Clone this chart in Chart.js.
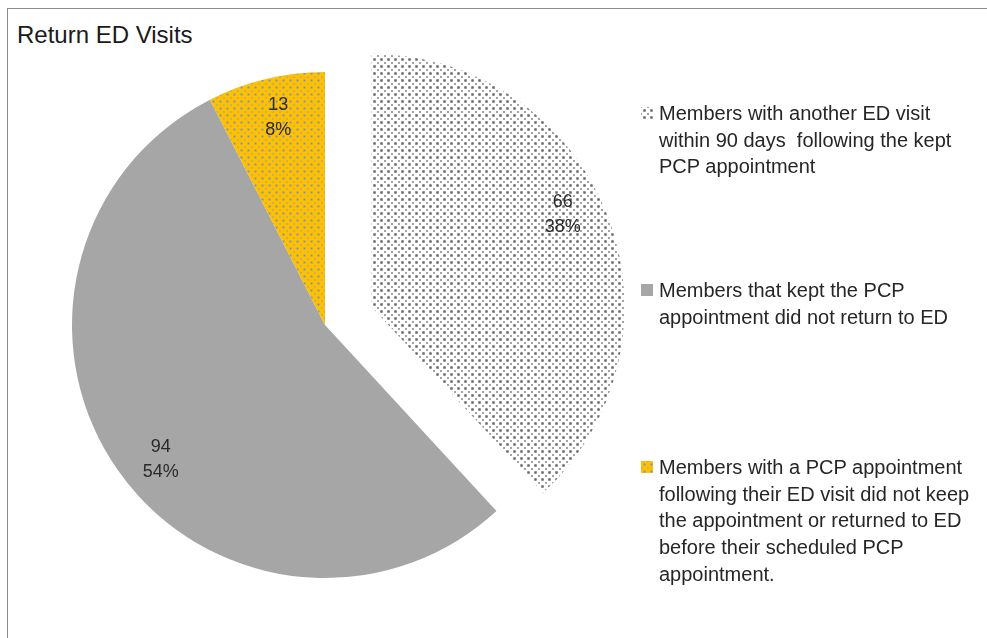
<!DOCTYPE html>
<html><head><meta charset="utf-8">
<script src="https://cdn.jsdelivr.net/npm/chart.js@4"></script>
<style>
html,body{margin:0;padding:0;background:#fff;width:987px;height:638px;overflow:hidden;font-family:"Liberation Sans",Arial,sans-serif;}
#frame{position:absolute;left:7px;top:8px;width:1000px;height:700px;border-top:1px solid #8c8c8c;border-left:1px solid #8c8c8c;}
#title{position:absolute;left:17px;top:21px;font-size:24px;color:#1a1a1a;white-space:pre;}
#wrap{position:absolute;left:0;top:0;width:987px;height:638px;}
#legend{position:absolute;left:641px;top:100px;width:346px;}
.item{position:absolute;left:0;width:340px;}
.item canvas{position:absolute;left:0;top:7px;}
.item .txt{position:absolute;left:18px;top:0;font-size:20px;line-height:26.7px;color:#262626;white-space:pre;}
</style>
</head><body>
<div id="frame"></div>
<div id="title">Return ED Visits</div>
<div id="wrap"><canvas id="c" width="987" height="638"></canvas></div>
<div id="legend"></div>
<script>
// ---- data ----
const titleText = "Return ED Visits";
const categories = [
  ["Members with another ED visit", "within 90 days  following the kept", "PCP appointment"],
  ["Members that kept the PCP", "appointment did not return to ED"],
  ["Members with a PCP appointment", "following their ED visit did not keep", "the appointment or returned to ED", "before their scheduled PCP", "appointment."]
];
const values = [66, 94, 13];
const explodedIndex = [0];

// ---- styles ----
const EXPLODE = 50;
const RADIUS = 253;
const LABEL_FRAC = 0.84;
const LABEL_ANGLE_NUDGE_DEG = [-4.5, -4.5, 0.8];

function makePattern(bg, c1, c2, c3, c4) {
  const cv = document.createElement('canvas');
  cv.width = 7; cv.height = 7;
  const g = cv.getContext('2d');
  g.fillStyle = bg; g.fillRect(0, 0, 7, 7);
  const px = (x, y, col) => { g.fillStyle = col; g.fillRect(x, y, 1, 1); };
  [[2,2],[4,2],[2,4],[4,4]].forEach(p => px(p[0], p[1], c3));
  [[3,2],[2,3],[4,3],[3,4]].forEach(p => px(p[0], p[1], c2));
  px(3, 3, c1);
  [[0,0],[6,6],[0,6],[6,0]].forEach(p => px(p[0], p[1], c4));
  return g.createPattern(cv, 'repeat');
}
const ctx = document.getElementById('c').getContext('2d');
const dotPattern = makePattern('#ffffff', '#6a6a6a', '#8a8a8a', '#b0b0b0', '#a4a4a4');
const goldPattern = makePattern('#ffc000', '#7f93a8', '#b7ab72', '#ddb638', '#c9b25a');
const colors = [dotPattern, '#a6a6a6', goldPattern];

const explodePlugin = {
  id: 'explode',
  afterDatasetUpdate(chart, args) {
    const meta = args.meta;
    explodedIndex.forEach(i => {
      const arc = meta.data[i];
      if (!arc) return;
      const mid = (arc.startAngle + arc.endAngle) / 2;
      arc.x += Math.cos(mid) * EXPLODE;
      arc.y += Math.sin(mid) * EXPLODE;
    });
  }
};

const labelPlugin = {
  id: 'pieLabels',
  afterDatasetsDraw(chart) {
    const meta = chart.getDatasetMeta(0);
    const data = chart.data.datasets[0].data;
    const total = data.reduce((a, b) => a + b, 0);
    const c = chart.ctx;
    c.save();
    c.font = '18px "Liberation Sans", Arial, sans-serif';
    c.fillStyle = '#2a2a2a';
    c.textAlign = 'center';
    c.textBaseline = 'middle';
    meta.data.forEach((arc, i) => {
      const mid = (arc.startAngle + arc.endAngle) / 2 + (LABEL_ANGLE_NUDGE_DEG[i] || 0) * Math.PI / 180;
      const r = arc.outerRadius * LABEL_FRAC;
      const x = arc.x + Math.cos(mid) * r;
      const y = arc.y + Math.sin(mid) * r;
      c.fillText(String(data[i]), x, y - 12.5);
      c.fillText(Math.round(data[i] / total * 100) + '%', x, y + 12.5);
    });
    c.restore();
  }
};

const chart = new Chart(ctx, {
  type: 'pie',
  data: {
    labels: categories,
    datasets: [{
      data: values,
      backgroundColor: colors,
      borderWidth: 0,
      radius: RADIUS
    }]
  },
  options: {
    responsive: false,
    animation: false,
    layout: { padding: { left: 60, top: 60, right: 397, bottom: 48 } },
    plugins: {
      legend: { display: false },
      title: { display: false },
      tooltip: { enabled: false }
    },
    events: []
  },
  plugins: [explodePlugin, labelPlugin]
});

// HTML legend built from chart data
const legend = document.getElementById('legend');
chart.data.labels.forEach((lab, i) => {
  const item = document.createElement('div');
  item.className = 'item';
  item.style.top = (177 * i) + 'px';
  const sw = document.createElement('canvas');
  sw.width = 12; sw.height = 12;
  const sg = sw.getContext('2d');
  sg.fillStyle = chart.data.datasets[0].backgroundColor[i];
  sg.fillRect(0, 0, 12, 12);
  const t = document.createElement('div');
  t.className = 'txt';
  t.textContent = Array.isArray(lab) ? lab.join('\n') : lab;
  item.appendChild(sw); item.appendChild(t);
  legend.appendChild(item);
});
document.getElementById('title').textContent = titleText;
</script>
</body></html>
